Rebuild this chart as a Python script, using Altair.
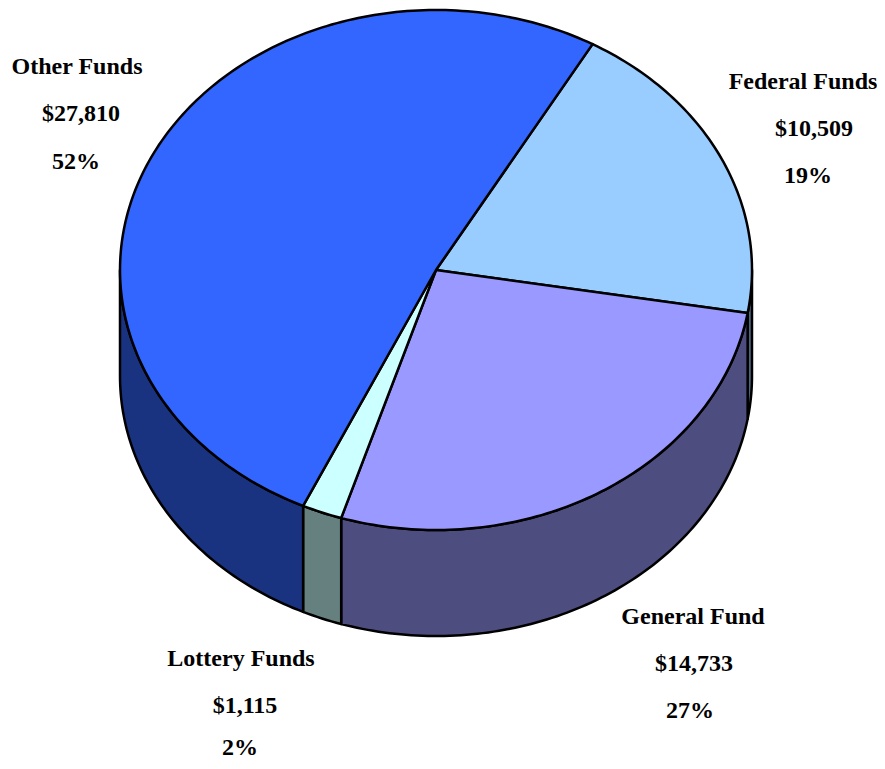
import numpy as np
import pandas as pd
import altair as alt

categories = ["Federal Funds", "General Fund", "Lottery Funds", "Other Funds"]
values = [10509, 14733, 1115, 27810]
percents = ["19%", "27%", "2%", "52%"]
top_colors = ["#99ccff", "#9999ff", "#ccffff", "#3366ff"]
wall_colors = ["#4d6680", "#4d4d80", "#668080", "#1a3380"]

# label line centres per category, page pixels
label_x = [[803, 814, 808], [693, 694, 690], [241, 245, 240], [77, 81, 76]]
label_y = [[82, 129, 176], [617, 664, 711], [659, 706, 748], [67, 114, 162]]

CX, CY, RX, RY, DEPTH, START = 436, 270, 316, 260, 106, 29.7
W, H = 869, 753
xs = alt.Scale(domain=[8, 8 + W], range=[0, W])
ys = alt.Scale(domain=[8, 8 + H], range=[0, H])


def ex(t):
    return CX + RX * np.sin(np.radians(t))


def ey(t):
    return CY - RY * np.cos(np.radians(t))


edges = START + 360 * np.concatenate([[0], np.cumsum(values)]) / sum(values)


def poly(px, py, color):
    df = pd.DataFrame({"x": px, "y": py, "i": np.arange(len(px))})
    return (
        alt.Chart(df)
        .mark_line(interpolate="linear-closed", fill=color, stroke="black", strokeWidth=2.5, strokeJoin="round", clip=False)
        .encode(
            x=alt.X("x:Q", scale=xs, axis=None),
            y=alt.Y("y:Q", scale=ys, axis=None),
            order="i:Q",
        )
    )


layers = []
# side walls: visible only for the front half of the rim
for k in range(4):
    a, b = edges[k], edges[k + 1]
    for shift in (0, 360):
        lo, hi = max(a, 90 + shift), min(b, 270 + shift)
        if hi > lo:
            t = np.linspace(lo, hi, max(2, int(hi - lo) + 2))
            px = np.concatenate([ex(t), ex(t[::-1])])
            py = np.concatenate([ey(t), ey(t[::-1]) + DEPTH])
            layers.append(poly(px, py, wall_colors[k]))
# top face
for k in range(4):
    t = np.linspace(edges[k], edges[k + 1], max(2, int(edges[k + 1] - edges[k]) + 2))
    px = np.concatenate([[CX], ex(t)])
    py = np.concatenate([[CY], ey(t)])
    layers.append(poly(px, py, top_colors[k]))

rows = []
for k, cat in enumerate(categories):
    lines = [cat, f"${values[k]:,}", percents[k]]
    for j, line in enumerate(lines):
        rows.append({"x": label_x[k][j], "y": label_y[k][j], "t": line})
text = (
    alt.Chart(pd.DataFrame(rows))
    .mark_text(font="Liberation Serif", fontWeight="bold", fontSize=24, color="black", align="center", baseline="middle")
    .encode(
        x=alt.X("x:Q", scale=xs, axis=None),
        y=alt.Y("y:Q", scale=ys, axis=None),
        text="t:N",
    )
)
layers.append(text)

chart = (
    alt.layer(*layers)
    .properties(width=W, height=H, padding=0, autosize=alt.AutoSizeParams(type="none"), background="white")
    .configure_view(stroke=None)
)
chart.save("out.html", embed_options={"renderer": "svg", "actions": False})
